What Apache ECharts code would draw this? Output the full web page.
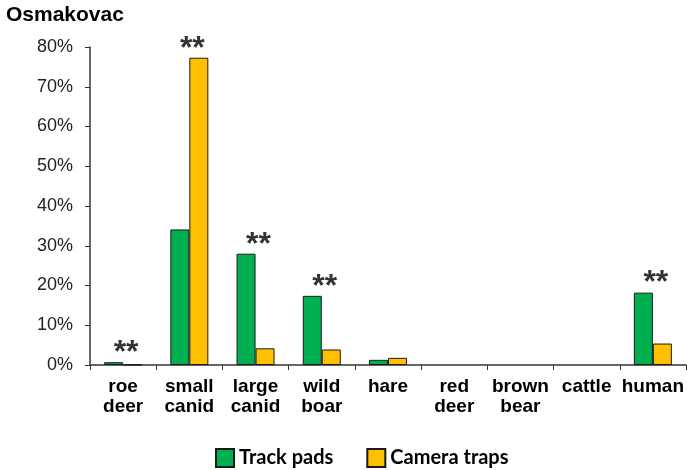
<!DOCTYPE html>
<html>
<head>
<meta charset="utf-8">
<script src="https://cdn.jsdelivr.net/npm/echarts@6/dist/echarts.min.js"></script>
<style>
  html, body { margin: 0; padding: 0; background: #fff; }
  #chart { width: 687px; height: 470px; }
</style>
</head>
<body>
<div id="chart"></div>
<script>
// categories as printed under the axis (two lines each)
const categories = ['roe\ndeer', 'small\ncanid', 'large\ncanid', 'wild\nboar', 'hare', 'red\ndeer', 'brown\nbear', 'cattle', 'human']
// percentages
const trackPads = [0.7, 34.1, 28.0, 17.4, 1.3, 0, 0, 0, 18.2]
const cameraTraps = [0.1, 77.3, 4.2, 3.9, 1.8, 0, 0, 0, 5.4]
// which categories carry the "**" mark
const significant = [true, true, true, true, false, false, false, false, true]

const chart = echarts.init(document.getElementById('chart'))

// empty categories get no bar at all (no border line on the axis)
const hideZero = arr => arr.map(v => (v === 0 ? '-' : v))

// star label sits above the taller bar of each pair
const starData = categories.map((c, i) =>
  significant[i] ? [i, Math.max(trackPads[i], cameraTraps[i])] : null
).filter(d => d)

const option = {
  animation: false,
  title: {
    text: 'Osmakovac',
    left: 1,
    top: 0,
    textStyle: { fontFamily: 'Liberation Sans', fontWeight: 'bold', fontSize: 21, color: '#000' }
  },
  legend: {
    data: ['Track pads', 'Camera traps'],
    icon: 'rect',
    left: 210,
    top: 443,
    itemWidth: 18,
    itemHeight: 18,
    itemGap: 33,
    textStyle: { fontFamily: 'Lato', fontWeight: 'bold', fontSize: 20, color: '#000' }
  },
  grid: {
    left: 90,
    right: 1,
    top: 47,
    bottom: 105
  },
  xAxis: {
    type: 'category',
    data: categories,
    axisLine: { lineStyle: { color: '#333', width: 1.5 } },
    axisTick: { show: true, length: 5, lineStyle: { color: '#333' } },
    axisLabel: {
      fontFamily: 'Liberation Sans',
      fontWeight: 'bold',
      fontSize: 19,
      color: '#000',
      lineHeight: 20,
      margin: 12,
      interval: 0
    }
  },
  yAxis: {
    type: 'value',
    min: 0,
    max: 80,
    interval: 10,
    splitLine: { show: false },
    axisLine: { show: true, lineStyle: { color: '#333', width: 1.5 } },
    axisTick: { show: true, length: 5, lineStyle: { color: '#333' } },
    axisLabel: {
      formatter: '{value}%',
      fontFamily: 'Liberation Sans',
      fontSize: 18,
      color: '#222',
      margin: 17
    }
  },
  series: [
    {
      name: 'Track pads',
      type: 'bar',
      data: hideZero(trackPads),
      barWidth: 19,
      barGap: '0%',
      itemStyle: { color: '#00b050', borderColor: '#1a1a1a', borderWidth: 1 }
    },
    {
      name: 'Camera traps',
      type: 'bar',
      data: hideZero(cameraTraps),
      barWidth: 19,
      itemStyle: { color: '#ffc000', borderColor: '#1a1a1a', borderWidth: 1 }
    },
    {
      name: 'stars',
      type: 'scatter',
      data: starData,
      symbolSize: 0,
      silent: true,
      label: {
        show: true,
        position: 'top',
        distance: -7,
        offset: [3, 0],
        formatter: '**',
        fontFamily: 'Liberation Sans',
        fontWeight: 'bold',
        fontSize: 32,
        color: '#000'
      }
    }
  ]
}

chart.setOption(option)
</script>
</body>
</html>
